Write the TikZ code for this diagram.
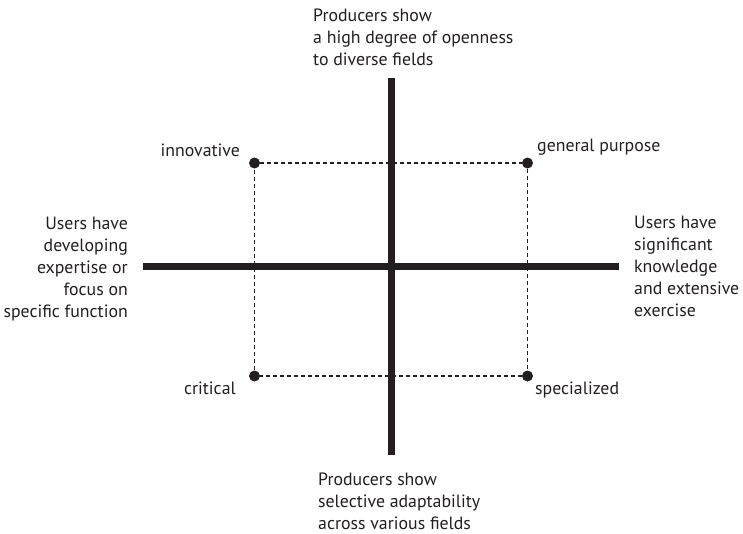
\documentclass[tikz,border=0pt]{standalone}
\usepackage{fontspec}
\setmainfont{PT Sans}
\definecolor{ink}{HTML}{231F20}
\begin{document}
\begin{tikzpicture}[x=1pt,y=-1pt,
  axis/.style={line width=7pt,draw=ink},
  guide/.style={line width=1.2pt,draw=ink,dash pattern=on 4pt off 3pt},
  dot/.style={circle,fill=ink,inner sep=0pt,minimum size=11pt},
  lbl/.style={font=\fontsize{17.8}{22}\selectfont,text=ink,inner sep=0pt}]
\useasboundingbox (0,0) rectangle (743,533);
% axis ends
\coordinate (vt) at (391,78);
\coordinate (vb) at (391,455);
\coordinate (hl) at (143,266);
\coordinate (hr) at (619,266);
% corner dots
\node[dot] (inn) at (254.5,163) {};
\node[dot] (gen) at (527.5,163) {};
\node[dot] (cri) at (254.5,376) {};
\node[dot] (spe) at (527.5,376) {};
\draw[guide] (inn) -- (gen) -- (spe) -- (cri) -- (inn);
\draw[axis] (vt) -- (vb);
\draw[axis] (hl) -- (hr);
% corner labels
\node[lbl,anchor=base east] (tinn) at (240,156) {innovative};
\node[lbl,anchor=base west] (tgen) at (537,151) {general purpose};
\node[lbl,anchor=base east] (tcri) at (236,394) {critical};
\node[lbl,anchor=base west] (tspe) at (535,394) {specialized};
% axis labels
\node[lbl,align=left,anchor=north west] (ttop) at (313,8.5) {Producers show\\a high degree of openness\\to diverse fields};
\node[lbl,align=left,anchor=north west] (tbot) at (318,472.5) {Producers show\\selective adaptability\\across various fields};
\node[lbl,align=right,anchor=north east] (tleft) at (128,216.5) {Users have\\developing\\expertise or\\focus on\\specific function};
\node[lbl,align=left,anchor=north west] (tright) at (634,215.5) {Users have\\significant\\knowledge\\and extensive\\exercise};
\end{tikzpicture}
\end{document}
